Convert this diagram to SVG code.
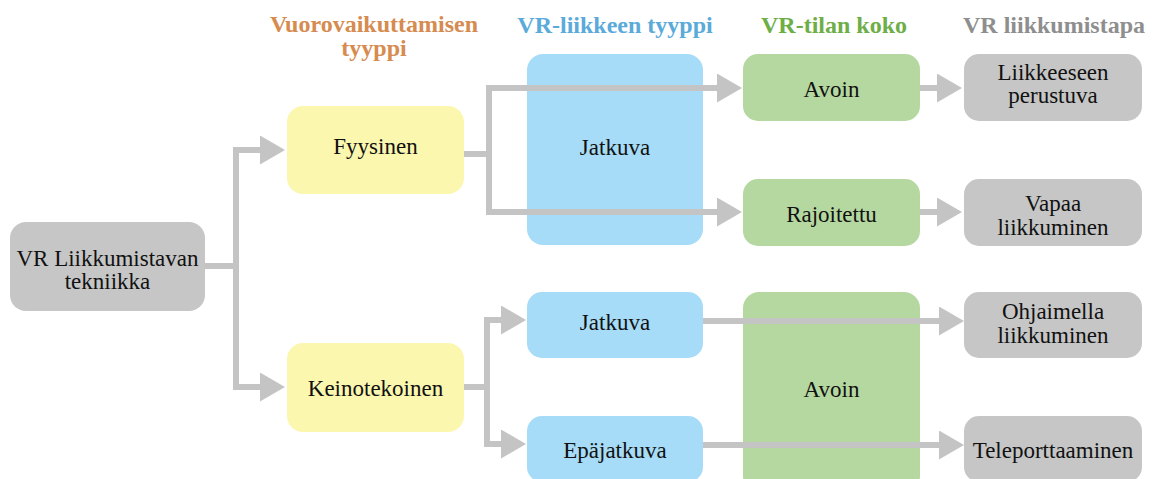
<svg xmlns="http://www.w3.org/2000/svg" width="1155" height="479" viewBox="0 0 1155 479">
<style>
.t{font-family:'Liberation Serif','Times New Roman',serif;font-size:23px;fill:#111;text-anchor:middle}
.h{font-family:'Liberation Serif','Times New Roman',serif;font-size:24px;font-weight:bold;text-anchor:middle}
.gray{fill:#C6C6C6}.yel{fill:#FBF7AF}.blue{fill:#A6DCF7}.green{fill:#B5D8A0}
.c{fill:none;stroke:#C4C4C4;stroke-width:6;marker-end:url(#ah)}
</style>
<defs>
<marker id="ah" markerUnits="userSpaceOnUse" markerWidth="25" markerHeight="29" refX="15" refY="14.5" orient="auto">
<path d="M0,0 L25,14.5 L0,29 Z" fill="#C4C4C4"/>
</marker>
</defs>
<g id="headers">
<text class="h" x="374" y="32" fill="#D68B50">Vuorovaikuttamisen</text>
<text class="h" x="374" y="56" fill="#D68B50">tyyppi</text>
<text class="h" x="615" y="33" fill="#5AAADA">VR-liikkeen tyyppi</text>
<text class="h" x="834" y="33" fill="#6DAE47">VR-tilan koko</text>
<text class="h" x="1054" y="33" fill="#8E8E8E">VR liikkumistapa</text>
</g>
<g id="root"><rect class="gray" x="10" y="222" width="195" height="89" rx="16"/>
<text class="t" x="107.5" y="265.5">VR Liikkumistavan</text><text class="t" x="107.5" y="289">tekniikka</text></g>
<g id="fyysinen"><rect class="yel" x="287" y="106" width="177" height="88" rx="16"/><text class="t" x="375.5" y="154">Fyysinen</text></g>
<g id="keinotekoinen"><rect class="yel" x="287" y="343" width="177" height="89" rx="16"/><text class="t" x="375.5" y="396">Keinotekoinen</text></g>
<g id="jatkuva1"><rect class="blue" x="527" y="54" width="176" height="191" rx="16"/><text class="t" x="615" y="155">Jatkuva</text></g>
<g id="avoin1"><rect class="green" x="743" y="54" width="177" height="67" rx="15"/><text class="t" x="831.5" y="97">Avoin</text></g>
<g id="rajoitettu"><rect class="green" x="743" y="179" width="177" height="67" rx="15"/><text class="t" x="831.5" y="222">Rajoitettu</text></g>
<g id="liikkeeseen"><rect class="gray" x="964" y="54" width="178" height="67" rx="15"/><text class="t" x="1053" y="79.5">Liikkeeseen</text><text class="t" x="1053" y="103">perustuva</text></g>
<g id="vapaa"><rect class="gray" x="964" y="179" width="178" height="67" rx="15"/><text class="t" x="1053" y="211">Vapaa</text><text class="t" x="1053" y="235">liikkuminen</text></g>
<g id="jatkuva2"><rect class="blue" x="527" y="292" width="176" height="66" rx="15"/><text class="t" x="615" y="330">Jatkuva</text></g>
<g id="epajatkuva"><rect class="blue" x="527" y="416" width="176" height="66" rx="15"/><text class="t" x="615" y="458">Epäjatkuva</text></g>
<g id="avoin2"><rect class="green" x="743" y="292" width="177" height="200" rx="16"/><text class="t" x="831.5" y="397">Avoin</text></g>
<g id="ohjaimella"><rect class="gray" x="964" y="292" width="178" height="66" rx="15"/><text class="t" x="1053" y="319">Ohjaimella</text><text class="t" x="1053" y="343">liikkuminen</text></g>
<g id="teleporttaaminen"><rect class="gray" x="964" y="416" width="178" height="66" rx="15"/><text class="t" x="1053" y="458">Teleporttaaminen</text></g>
<g id="connectors">
<path class="c" d="M205,266 H236 V150 H275"/>
<path class="c" d="M205,266 H236 V387 H275"/>
<path class="c" d="M464,154 H489 V88 H732"/>
<path class="c" d="M464,154 H489 V212 H732"/>
<path class="c" d="M464,387 H487 V320 H516"/>
<path class="c" d="M464,387 H487 V444 H516"/>
<path class="c" d="M920,88 H952"/>
<path class="c" d="M920,212 H952"/>
<path class="c" d="M703,321 H954"/>
<path class="c" d="M703,445 H954"/>
</g>
</svg>
